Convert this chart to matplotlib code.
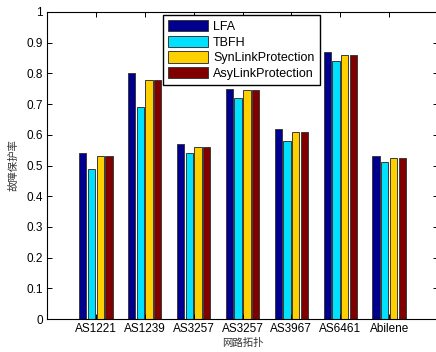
import matplotlib
matplotlib.use('agg')
import matplotlib.pyplot as plt
import numpy as np

# données
topologies = ['AS1221', 'AS1239', 'AS3257', 'AS3257', 'AS3967', 'AS6461', 'Abilene']
lfa = [0.54, 0.80, 0.57, 0.75, 0.62, 0.87, 0.53]
tbfh = [0.49, 0.69, 0.54, 0.72, 0.58, 0.84, 0.51]
syn = [0.53, 0.78, 0.56, 0.745, 0.61, 0.86, 0.525]
asy = [0.53, 0.78, 0.56, 0.745, 0.61, 0.86, 0.525]
series_names = ['LFA', 'TBFH', 'SynLinkProtection', 'AsyLinkProtection']
colors = ['#00008F', '#00E0FF', '#FFD000', '#800000']

plt.rcParams['font.family'] = ['Liberation Sans', 'Noto Sans CJK SC', 'DejaVu Sans']

fig = plt.figure(figsize=(4.36, 3.52), dpi=100)
ax = fig.add_axes([47/436, 33/352, 391/436, 307/352])

x = np.arange(1, len(topologies) + 1)
step = 0.178
for i, (vals, name, c) in enumerate(zip([lfa, tbfh, syn, asy], series_names, colors)):
    ax.bar(x + (i - 1.5) * step, vals, width=0.15, color=c, edgecolor='#3a3a3a',
           linewidth=0.7, label=name)

ax.set_xlim(0, 8)
ax.set_ylim(0, 1)
ax.set_xticks(x)
ax.set_xticklabels(topologies)
ax.set_yticks(np.arange(0, 1.01, 0.1))
ax.set_yticklabels(['0'] + ['%.1f' % v for v in np.arange(0.1, 0.95, 0.1)] + ['1'])
ax.tick_params(direction='in', top=True, right=True, length=3.5, width=0.7,
               labelsize=8.5, pad=3)
for s in ax.spines.values():
    s.set_linewidth(0.8)

ax.set_ylabel('故障保护率', family=['Noto Sans CJK SC'], fontsize=7.5, labelpad=6,
              color='#333333')
ax.set_xlabel('网路拓扑', family=['Noto Sans CJK SC'], fontsize=7.5, labelpad=2,
              color='#333333')

leg = ax.legend(loc='upper left', bbox_to_anchor=(0.297, 0.99), borderaxespad=0,
                fontsize=9, handlelength=3.2, handleheight=1.0, labelspacing=0.22,
                handletextpad=0.4, borderpad=0.4, fancybox=False, framealpha=1)
leg.get_frame().set_edgecolor('black')
leg.get_frame().set_linewidth(1.0)

fig.savefig('out.png', dpi=100)
